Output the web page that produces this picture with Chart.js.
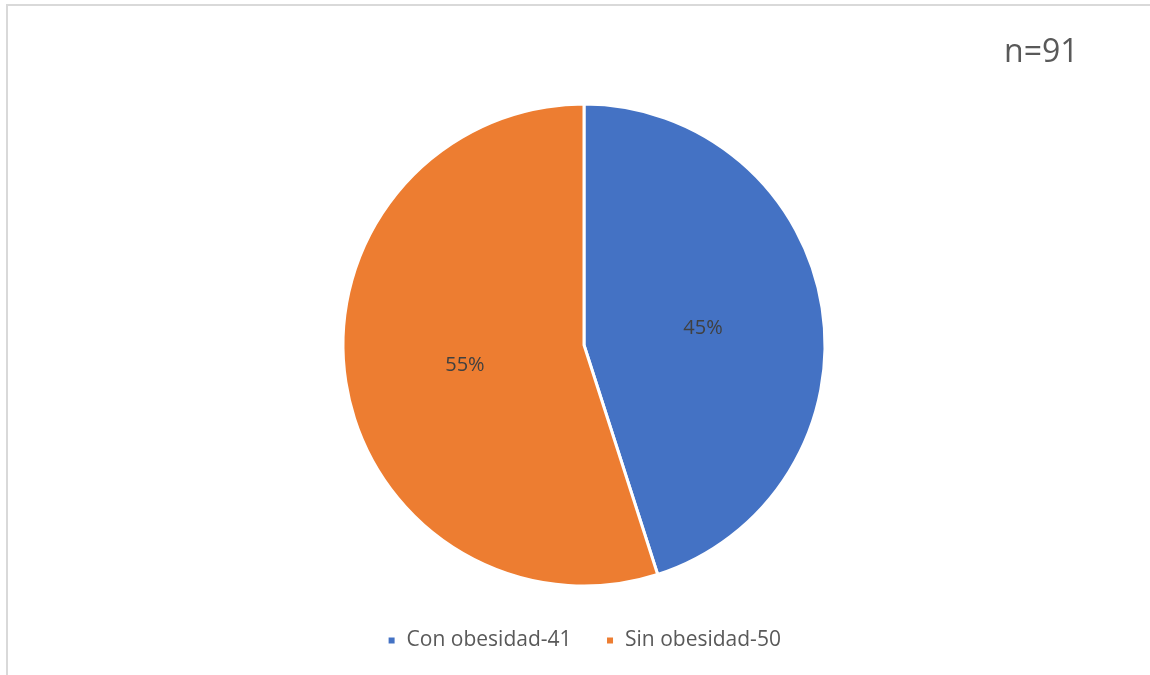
<!DOCTYPE html>
<html>
<head>
<meta charset="utf-8">
<script src="https://cdn.jsdelivr.net/npm/chart.js@4.4.1/dist/chart.umd.min.js"></script>
<style>
html,body{margin:0;padding:0;background:#fff;}
#wrap{position:relative;width:1150px;height:675px;}
</style>
</head>
<body>
<div id="wrap"><canvas id="c" width="1150" height="675"></canvas></div>
<script>
const categories = ["Con obesidad-41", "Sin obesidad-50"];
const counts = [41, 50];
const percentLabels = ["45%", "55%"];
const colors = ["#4472C4", "#ED7D31"];
const sampleLabel = "n=91";

const FONT = "'Open Sans', 'Liberation Sans', sans-serif";

const framePlugin = {
  id: 'frame',
  beforeDraw(chart) {
    const ctx = chart.ctx;
    ctx.save();
    ctx.fillStyle = '#ffffff';
    ctx.fillRect(0, 0, chart.width, chart.height);
    ctx.fillStyle = '#d9d9d9';
    ctx.fillRect(6, 4, chart.width - 6, 2);
    ctx.fillRect(6, 4, 2, chart.height - 4);
    ctx.restore();
  },
  afterDraw(chart) {
    const ctx = chart.ctx;
    ctx.save();
    ctx.fillStyle = '#595959';
    ctx.font = "32px " + FONT;
    ctx.textAlign = 'left';
    ctx.textBaseline = 'alphabetic';
    ctx.fillText(sampleLabel, 1004, 62);
    const meta = chart.getDatasetMeta(0);
    ctx.fillStyle = '#404040';
    ctx.font = "20px " + FONT;
    ctx.textAlign = 'center';
    ctx.textBaseline = 'middle';
    meta.data.forEach((arc, i) => {
      const p = arc.tooltipPosition();
      ctx.fillText(percentLabels[i], p.x, p.y + 2);
    });
    ctx.restore();
  }
};

const legendFit = {
  id: 'legendFit',
  beforeInit(chart) {
    const orig = chart.legend.fit;
    chart.legend.fit = function() {
      orig.call(this);
      this.height = 79;
    };
  }
};

new Chart(document.getElementById('c'), {
  type: 'pie',
  data: {
    labels: categories,
    datasets: [{
      data: counts,
      backgroundColor: colors,
      borderColor: '#ffffff',
      borderWidth: 3
    }]
  },
  options: {
    responsive: false,
    animation: false,
    radius: 241,
    layout: { padding: { top: 94, bottom: 0, left: 18, right: 0 } },
    plugins: {
      tooltip: { enabled: false },
      legend: {
        position: 'bottom',
        labels: {
          boxWidth: 9,
          boxHeight: 9,
          padding: 34,
          color: '#595959',
          font: { family: FONT, size: 21 }
        }
      }
    }
  },
  plugins: [framePlugin, legendFit]
});
</script>
</body>
</html>
